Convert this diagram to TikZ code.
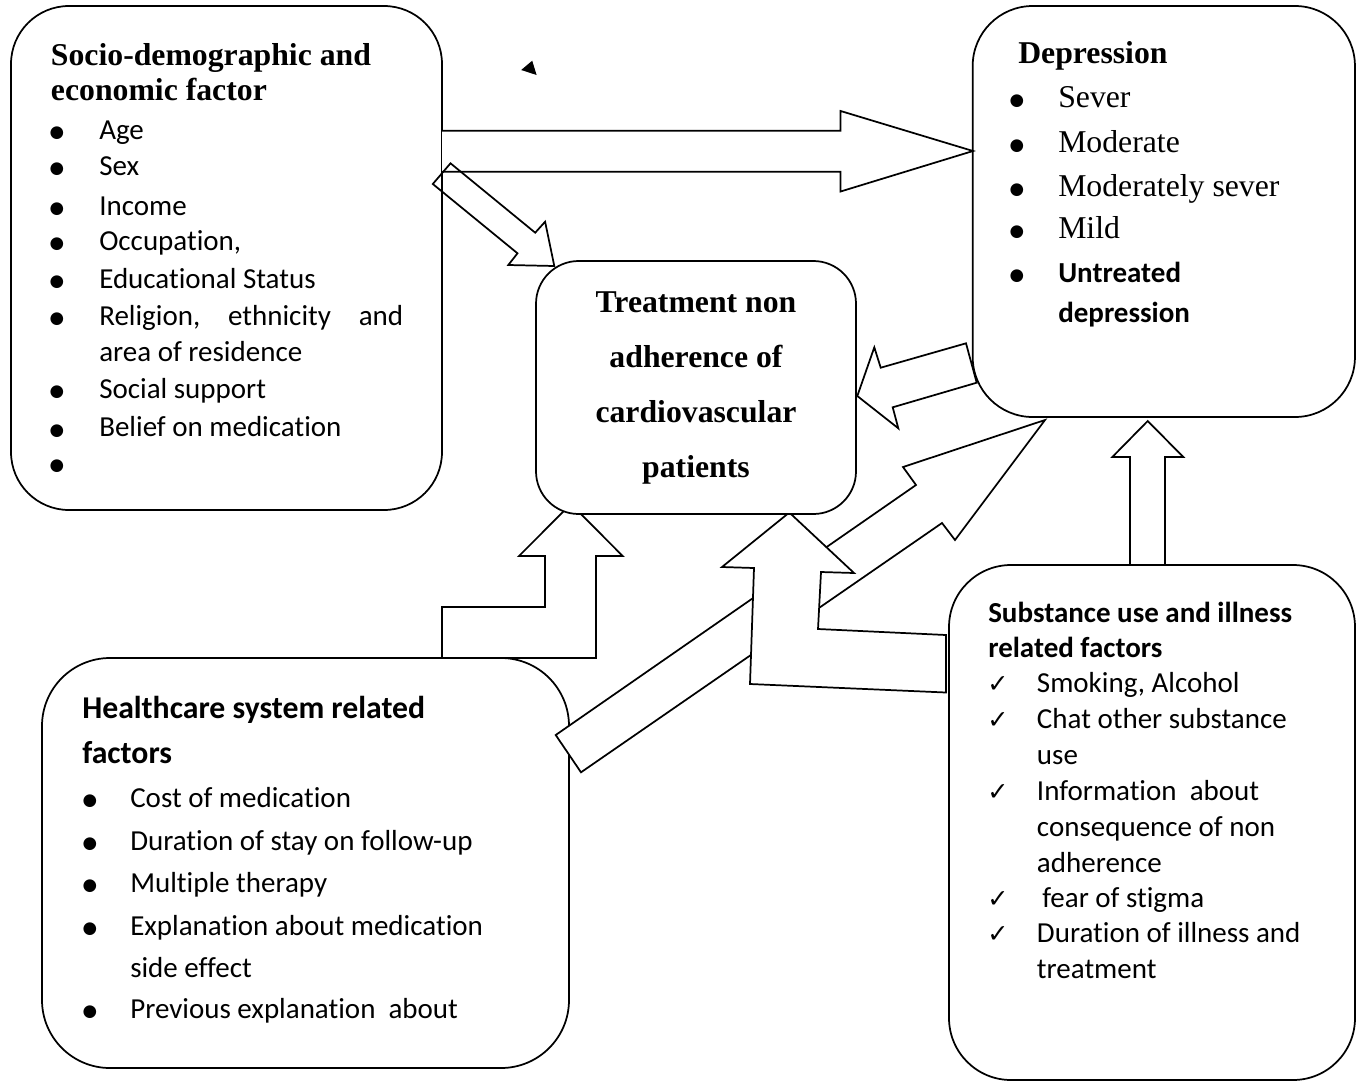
\documentclass[tikz,border=0pt]{standalone}
\usepackage{fontspec}
\setmainfont{Liberation Serif}
\newfontfamily\calfont[Ligatures=NoCommon]{Carlito}
\newfontfamily\dvfont{DejaVu Sans}
\begin{document}
\begin{tikzpicture}[x=0.75pt,y=-0.75pt]
\tikzset{
  boxs/.style={draw, line width=1.3pt, inner sep=0pt},
  blkf/.style={draw, fill=white, line width=1.3pt, line join=miter},
  blkn/.style={draw, line width=1.3pt, line join=miter},
  serb/.style={font=\fontsize{23.8pt}{28pt}\selectfont\bfseries, anchor=base west, inner sep=0pt},
  serc/.style={font=\fontsize{23.8pt}{28pt}\selectfont\bfseries, anchor=base, inner sep=0pt},
  serr/.style={font=\fontsize{23.8pt}{28pt}\selectfont, anchor=base west, inner sep=0pt},
  calr/.style={font=\calfont\fontsize{21.75pt}{26pt}\selectfont, anchor=base west, inner sep=0pt},
  calb/.style={font=\calfont\bfseries\fontsize{21.75pt}{26pt}\selectfont, anchor=base west, inner sep=0pt},
  calbt/.style={font=\calfont\bfseries\fontsize{23.8pt}{28pt}\selectfont, anchor=base west, inner sep=0pt},
  bul/.style={font=\dvfont\fontsize{12.5pt}{15pt}\selectfont, anchor=base, inner sep=0pt, yshift=1pt},
  chk/.style={font=\dvfont\fontsize{19pt}{22pt}\selectfont, anchor=base, inner sep=0pt}
}
\useasboundingbox (0,0) rectangle (1362,1082);

% outer boxes
\node[boxs, rounded corners=43.5pt, minimum width=323.25pt, minimum height=378pt] (socio) at (226.5,258) {};
\node[boxs, rounded corners=45pt, minimum width=286.7pt, minimum height=308.25pt] (depr) at (1163.8,211.5) {};
\node[boxs, rounded corners=51pt, minimum width=395.25pt, minimum height=307.5pt] (health) at (305.5,863) {};
\node[boxs, rounded corners=46.5pt, minimum width=304.5pt, minimum height=386.25pt] (subst) at (1152,822.5) {};

% block arrows
\draw[blkf] (442,130.7) -- (840.6,130.7) -- (840.6,111) -- (973,151) -- (840.6,191.5) -- (840.6,171.7) -- (442,171.7);
\draw[blkn] (432.8,184) -- (450.5,163.3) -- (535.2,232.7) -- (545.1,221.7) -- (554.3,266) -- (508.3,265) -- (517.5,253.3) -- cycle;
\draw[blkn] (857.3,396) -- (874.3,347.3) -- (880.7,367.7) -- (966,343.3) -- (976.7,382.7) -- (892.7,407.3) -- (898.3,428.3) -- cycle;
\draw[blkf] (1147.7,421) -- (1183.3,457) -- (1165,457) -- (1165,565) -- (1130,565) -- (1130,457) -- (1112.3,457) -- cycle;
\draw[blkf] (555.7,735) -- (916,485) -- (903,467) -- (1045,420) -- (955,540) -- (942,523) -- (581,772.3) -- cycle;
\draw[blkf] (442,658) -- (442,607) -- (545,607) -- (545,556) -- (519,556) -- (570.9,504) -- (622.7,556) -- (596,556) -- (596,658) -- cycle;
\draw[blkf] (946,635) -- (818,629) -- (821,572) -- (854,573) -- (789.3,512.5) -- (722,567) -- (754,568) -- (750,684) -- (946,692.5) -- cycle;

% centre box
\node[boxs, fill=white, rounded corners=32pt, minimum width=240pt, minimum height=189.75pt] (centre) at (696,387.5) {};

% stray arrowhead
\fill (521.2,70) -- (532.2,60.7) -- (536.6,75) -- cycle;

% centre text
\node[serc] (c1) at (696,312) {Treatment non};
\node[serc] (c2) at (696,367) {adherence of};
\node[serc] (c3) at (696,422) {cardiovascular};
\node[serc] (c4) at (696,477) {patients};

% socio text
\node[serb] (s0) at (50.7,65) {Socio-demographic and};
\node[serb] (s00) at (50.7,100) {economic factor};
\foreach \y/\t [count=\i] in {139.3/Age,175/Sex,215/Income,250/{Occupation,},288.3/Educational Status,361.7/area of residence,398.3/Social support,436.7/Belief on medication}{
  \node[calr] (st\i) at (99,\y) {\t};
}
\node[calr] (srel) at (99,325) {\makebox[228pt][s]{Religion,\hfill ethnicity\hfill and}};
\foreach \y [count=\i] in {139.3,175,215,250,288.3,325,398.3,436.7,472}{
  \node[bul] (sb\i) at (57,\y) {●};
}

% depression text
\node[serb] (d0) at (1018,63) {Depression};
\foreach \y/\t [count=\i] in {107/Sever,152/Moderate,196/Moderately sever,238/Mild}{
  \node[serr] (dt\i) at (1058,\y) {\t};
}
\node[calb] (dt5) at (1058,282) {Untreated};
\node[calb] (dt6) at (1058,322) {depression};
\foreach \y [count=\i] in {107,152,196,238,282}{
  \node[bul] (db\i) at (1017,\y) {●};
}

% healthcare text
\node[calbt] (h0) at (82,718) {Healthcare system related};
\node[calbt] (h00) at (82,763) {factors};
\foreach \y/\t [count=\i] in {807/Cost of medication,850/Duration of stay on follow-up,892/Multiple therapy,935/Explanation about medication,977/side effect,1018/Previous explanation\ \ about}{
  \node[calr] (ht\i) at (130,\y) {\t};
}
\foreach \y [count=\i] in {807,850,892,935,1018}{
  \node[bul] (hb\i) at (90,\y) {●};
}

% substance text
\node[calb] (u0) at (988,622) {Substance use and illness};
\node[calb] (u00) at (988,657) {related factors};
\foreach \y/\t [count=\i] in {692/{Smoking, Alcohol},728/Chat other substance,764/use,800/Information\ \ about,836/consequence of non,872/adherence,942/Duration of illness and,978/treatment}{
  \node[calr] (ut\i) at (1036.7,\y) {\t};
}
\node[calr] (ufear) at (1042,907) {fear of stigma};
\foreach \y [count=\i] in {692,728,800,907,942}{
  \node[chk] (uc\i) at (998,\y) {✓};
}
\end{tikzpicture}
\end{document}
